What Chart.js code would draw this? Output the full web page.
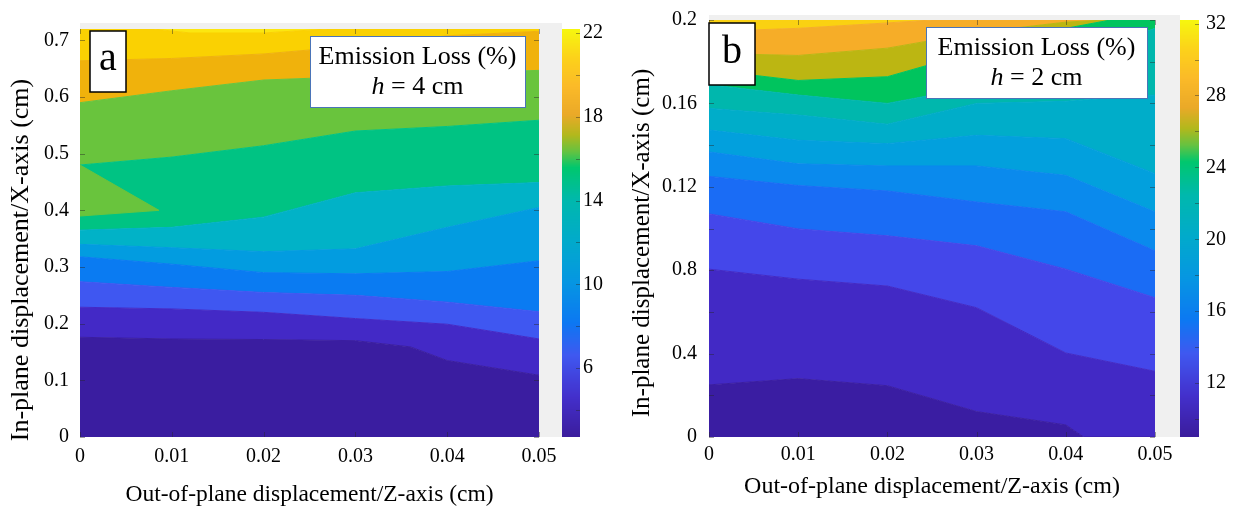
<!DOCTYPE html>
<html>
<head>
<meta charset="utf-8">
<script src="https://cdn.jsdelivr.net/npm/chart.js@4.4.1/dist/chart.umd.min.js"></script>
<style>
  html, body { margin: 0; padding: 0; background: #fff; }
  #wrap { position: relative; width: 1242px; height: 511px; overflow: hidden; }
  #chartA { position: absolute; left: 0; top: 0; }
  #chartB { position: absolute; left: 620px; top: 0; }
</style>
</head>
<body>
<div id="wrap">
  <canvas id="chartA" width="620" height="511"></canvas>
  <canvas id="chartB" width="622" height="511"></canvas>
</div>
<script>
// ---------- panel a (h = 4 cm) ----------
const xTicks = [0, 0.01, 0.02, 0.03, 0.04, 0.05];
const yTicksA = [0, 0.1, 0.2, 0.3, 0.4, 0.5, 0.6, 0.7];
const cbarTicksA = [6, 10, 14, 18, 22];
const cbarRangeA = [2.7, 22.2];

// contour boundaries, bottom to top, as [z, x] pairs (cm)
const a1 = [[0, 0.176], [0.01, 0.173], [0.02, 0.172], [0.03, 0.170], [0.036, 0.159], [0.04, 0.135], [0.05, 0.109]];
const a2 = [[0, 0.229], [0.01, 0.226], [0.02, 0.220], [0.03, 0.209], [0.04, 0.199], [0.05, 0.173]];
const a3 = [[0, 0.274], [0.01, 0.264], [0.02, 0.255], [0.03, 0.250], [0.04, 0.238], [0.05, 0.221]];
const a4 = [[0, 0.318], [0.01, 0.305], [0.02, 0.290], [0.03, 0.288], [0.04, 0.292], [0.05, 0.311]];
const a5 = [[0, 0.340], [0.01, 0.334], [0.02, 0.327], [0.03, 0.332], [0.04, 0.370], [0.05, 0.405]];
const a6 = [[0, 0.365], [0.01, 0.370], [0.02, 0.388], [0.03, 0.431], [0.04, 0.443], [0.05, 0.449]];
const a7 = [[0, 0.480], [0.01, 0.494], [0.02, 0.514], [0.03, 0.540], [0.04, 0.548], [0.05, 0.559]];
const a8 = [[0, 0.590], [0.01, 0.611], [0.02, 0.630], [0.03, 0.636], [0.04, 0.642], [0.05, 0.647]];
const a9 = [[0, 0.664], [0.01, 0.668], [0.02, 0.676], [0.03, 0.690], [0.04, 0.708], [0.05, 0.716]];
const a10 = [[0, 0.72], [0.008, 0.72], [0.012, 0.713], [0.02, 0.713], [0.027, 0.72], [0.05, 0.72]];
// small green island on the left edge
const aIslandTop = [[0, 0.480], [0.0086, 0.400]];
const aIslandBottom = [[0, 0.390], [0.0086, 0.400]];

const bandColorsA = ['#3a1da0', '#4329c6', '#3f57f1', '#0a7bf2', '#029ce0', '#01b2c7',
                     '#00c383', '#69c43d', '#f0b20c', '#fad102', '#fce610'];

// ---------- panel b (h = 2 cm) ----------
const yTicksB = [0, 0.04, 0.08, 0.12, 0.16, 0.2];
const yTickLabelsB = ['0', '0.4', '0.8', '0.12', '0.16', '0.2'];
const cbarTicksB = [12, 16, 20, 24, 28, 32];
const cbarRangeB = [9.0, 32.2];

const b1 = [[0, 0.025], [0.01, 0.028], [0.02, 0.0246], [0.03, 0.0122], [0.04, 0.0058], [0.042, 0], [0.05, 0]];
const b2 = [[0, 0.0805], [0.01, 0.0757], [0.02, 0.0724], [0.03, 0.062], [0.04, 0.0403], [0.05, 0.0315]];
const b3 = [[0, 0.107], [0.01, 0.0998], [0.02, 0.0965], [0.03, 0.0917], [0.04, 0.0805], [0.05, 0.0668]];
const b4 = [[0, 0.125], [0.01, 0.1206], [0.02, 0.118], [0.03, 0.1127], [0.04, 0.108], [0.05, 0.0893]];
const b5 = [[0, 0.1367], [0.01, 0.131], [0.02, 0.130], [0.03, 0.130], [0.04, 0.1255], [0.05, 0.108]];
const b6 = [[0, 0.1472], [0.01, 0.1423], [0.02, 0.1407], [0.03, 0.1447], [0.04, 0.1431], [0.05, 0.1263]];
const b7 = [[0, 0.1576], [0.01, 0.1544], [0.02, 0.150], [0.03, 0.160], [0.04, 0.161], [0.05, 0.164]];
const b8 = [[0, 0.169], [0.01, 0.164], [0.02, 0.160], [0.03, 0.168], [0.04, 0.180], [0.05, 0.196]];
const b9 = [[0, 0.176], [0.01, 0.171], [0.02, 0.1728], [0.03, 0.185], [0.04, 0.196], [0.045, 0.2], [0.05, 0.2]];
const b10 = [[0, 0.184], [0.01, 0.183], [0.02, 0.1865], [0.03, 0.194], [0.04, 0.199], [0.0445, 0.2], [0.05, 0.2]];
const b11 = [[0, 0.1945], [0.01, 0.196], [0.02, 0.1986], [0.025, 0.2], [0.05, 0.2]];

const bandColorsB = ['#3a1da2', '#4229c5', '#4447ea', '#1a6cf5', '#0a8aed', '#02a0dd',
                     '#00adc9', '#00b7ad', '#00c45e', '#bcb612', '#f6ad28', '#fad112'];

// colorbar map (parula-like, as printed)
const cmapStops = [
  [0.00, '#3b1c9c'], [0.10, '#4330cc'], [0.20, '#3f58f0'], [0.28, '#0c78f2'],
  [0.38, '#0696e2'], [0.48, '#01aacb'], [0.58, '#00b8ad'], [0.66, '#00c76e'],
  [0.70, '#66c240'], [0.74, '#b2b81c'], [0.79, '#eaa928'], [0.86, '#fbba28'],
  [0.93, '#fcd21a'], [1.00, '#f6f70e']
];

const serif = "'Liberation Serif', 'Times New Roman', serif";

function hexRgb(h) {
  return [parseInt(h.slice(1, 3), 16), parseInt(h.slice(3, 5), 16), parseInt(h.slice(5, 7), 16)];
}

function cmap(t) {
  t = Math.max(0, Math.min(1, t));
  for (let i = 1; i < cmapStops.length; i++) {
    if (t <= cmapStops[i][0]) {
      const [t0, c0] = cmapStops[i - 1];
      const [t1, c1] = cmapStops[i];
      const f = (t - t0) / (t1 - t0);
      const a = hexRgb(c0), b = hexRgb(c1);
      return 'rgb(' + a.map((v, k) => Math.round(v + (b[k] - v) * f)).join(',') + ')';
    }
  }
  return cmapStops[cmapStops.length - 1][1];
}

function toPts(arr) {
  return arr.map(p => ({ x: p[0], y: p[1] }));
}

function contourDatasets(levels, colors) {
  const ds = levels.map((lv, i) => ({
    data: toPts(lv),
    fill: i === 0 ? 'start' : '-1',
    backgroundColor: colors[i],
    borderColor: colors[i],
    borderWidth: 1,
    pointRadius: 0,
    tension: 0
  }));
  // region above the last contour
  ds.push({
    data: toPts(levels[levels.length - 1]),
    fill: 'end',
    backgroundColor: colors[levels.length],
    borderColor: colors[levels.length],
    borderWidth: 0,
    pointRadius: 0,
    tension: 0
  });
  return ds;
}

// gray figure background, colorbar, inner tick marks, y title and text boxes
const panelDeco = {
  id: 'panelDeco',
  beforeDraw(chart, args, o) {
    const { ctx, chartArea: ca } = chart;
    ctx.save();
    ctx.fillStyle = '#f0f0f0';
    ctx.fillRect(ca.left, ca.top - o.grayTop, ca.right - ca.left + o.barGap, ca.bottom - ca.top + o.grayTop);
    ctx.restore();
  },
  afterDraw(chart, args, o) {
    const { ctx, chartArea: ca, scales } = chart;
    const y2 = scales.y2;
    const bx = ca.right + o.barGap;
    ctx.save();
    // colorbar gradient
    for (let py = Math.floor(ca.top); py < ca.bottom; py++) {
      const v = y2.getValueForPixel(py + 0.5);
      ctx.fillStyle = cmap((v - o.range[0]) / (o.range[1] - o.range[0]));
      ctx.fillRect(bx, py, o.barWidth, 1);
    }
    ctx.strokeStyle = 'rgba(40,40,40,0.45)';
    ctx.lineWidth = 1;
    ctx.beginPath();
    for (let v = Math.ceil(o.range[0] / 2) * 2; v <= o.range[1]; v += 2) {
      const py = Math.round(y2.getPixelForValue(v)) + 0.5;
      ctx.moveTo(bx + o.barWidth, py);
      ctx.lineTo(bx + o.barWidth - 4, py);
    }
    // inner ticks of the axes box
    o.xMarks.forEach(v => {
      const px = Math.round(scales.x.getPixelForValue(v)) + 0.5;
      ctx.moveTo(px, ca.bottom); ctx.lineTo(px, ca.bottom - 5);
      ctx.moveTo(px, ca.top); ctx.lineTo(px, ca.top + 5);
    });
    o.yMarks.forEach(v => {
      const py = Math.round(scales.y.getPixelForValue(v)) + 0.5;
      ctx.moveTo(ca.left, py); ctx.lineTo(ca.left + 5, py);
      ctx.moveTo(ca.right, py); ctx.lineTo(ca.right - 5, py);
    });
    ctx.stroke();

    // y axis title (MATLAB places it a little below the axis centre)
    ctx.fillStyle = '#000';
    ctx.font = o.yTitleSize + 'px ' + serif;
    ctx.textAlign = 'center';
    ctx.textBaseline = 'middle';
    ctx.translate(o.yTitlePos[0], o.yTitlePos[1]);
    ctx.rotate(-Math.PI / 2);
    ctx.fillText('In-plane displacement/X-axis (cm)', 0, 0);
    ctx.setTransform(1, 0, 0, 1, 0, 0);

    // panel letter box
    const L = o.letterBox;
    ctx.fillStyle = '#fff';
    ctx.fillRect(L[0], L[1], L[2], L[3]);
    ctx.strokeStyle = '#000';
    ctx.lineWidth = 1.5;
    ctx.strokeRect(L[0], L[1], L[2], L[3]);
    ctx.fillStyle = '#000';
    ctx.font = '40px ' + serif;
    ctx.fillText(o.letter, L[0] + L[2] / 2, L[1] + L[3] / 2 - 2);

    // info box
    const B = o.infoBox;
    ctx.fillStyle = '#fff';
    ctx.fillRect(B[0], B[1], B[2], B[3]);
    ctx.strokeStyle = '#4a74b8';
    ctx.lineWidth = 1;
    ctx.strokeRect(B[0] + 0.5, B[1] + 0.5, B[2], B[3]);
    ctx.fillStyle = '#000';
    const cx = B[0] + B[2] / 2;
    ctx.font = '26px ' + serif;
    ctx.fillText('Emission Loss (%)', cx, B[1] + B[3] * 0.3);
    const rest = ' = ' + o.h + ' cm';
    ctx.font = 'italic 26px ' + serif;
    const wh = ctx.measureText('h').width;
    ctx.font = '26px ' + serif;
    const wr = ctx.measureText(rest).width;
    const x0 = cx - (wh + wr) / 2;
    const yy = B[1] + B[3] * 0.72;
    ctx.textAlign = 'left';
    ctx.font = 'italic 26px ' + serif;
    ctx.fillText('h', x0, yy);
    ctx.font = '26px ' + serif;
    ctx.fillText(rest, x0 + wh, yy);
    ctx.restore();
  }
};

function fmt(v) {
  return String(+(+v).toFixed(3));
}

function noPad(s) {
  s.paddingTop = 0;
  s.paddingBottom = 0;
}

function makeChart(id, cfg) {
  return new Chart(document.getElementById(id), {
    type: 'line',
    data: { datasets: cfg.datasets },
    options: {
      responsive: false,
      animation: false,
      devicePixelRatio: 1,
      layout: { padding: { top: cfg.top, left: 0, right: 0, bottom: 0 } },
      plugins: {
        legend: { display: false },
        tooltip: { enabled: false },
        panelDeco: cfg.deco
      },
      scales: {
        x: {
          type: 'linear', position: 'bottom', min: 0, max: 0.05,
          afterBuildTicks: s => { s.ticks = xTicks.map(v => ({ value: v })); },
          afterFit: s => { s.height = 74; },
          grid: { display: false, drawTicks: false },
          border: { display: false },
          ticks: { color: '#000', padding: cfg.xTickPad, font: { family: serif, size: 20 }, callback: v => fmt(v) },
          title: {
            display: true, text: 'Out-of-plane displacement/Z-axis (cm)', color: '#000',
            font: { family: serif, size: cfg.xTitleSize }, padding: { top: 0, bottom: cfg.xTitlePad }
          }
        },
        y: {
          type: 'linear', position: 'left', min: 0, max: cfg.yMax,
          afterBuildTicks: s => { s.ticks = cfg.yTicks.map(v => ({ value: v })); },
          afterFit: s => { s.width = cfg.yWidth; noPad(s); },
          grid: { display: false, drawTicks: false },
          border: { display: false },
          ticks: { color: '#000', padding: cfg.yTickPad, font: { family: serif, size: 20 }, callback: cfg.yLabel }
        },
        y2: {
          type: 'linear', position: 'right', min: cfg.cRange[0], max: cfg.cRange[1],
          afterBuildTicks: s => { s.ticks = cfg.cTicks.map(v => ({ value: v })); },
          afterFit: s => { s.width = cfg.rWidth; noPad(s); },
          grid: { display: false, drawTicks: false },
          border: { display: false },
          ticks: { color: '#000', padding: cfg.cTickPad, font: { family: serif, size: 20 } }
        }
      }
    },
    plugins: [panelDeco]
  });
}

// panel a
const dsA = contourDatasets([a1, a2, a3, a4, a5, a6, a7, a8, a9, a10], bandColorsA);
dsA.push({ data: toPts(aIslandTop), fill: false, borderWidth: 1, borderColor: bandColorsA[7], pointRadius: 0, order: -1 });
dsA.push({ data: toPts(aIslandBottom), fill: dsA.length - 1, backgroundColor: bandColorsA[7], borderWidth: 1, borderColor: bandColorsA[7], pointRadius: 0, order: -1 });

makeChart('chartA', {
  datasets: dsA,
  top: 29, yMax: 0.72, yTicks: yTicksA, yWidth: 80, rWidth: 81,
  xTickPad: 8, xTitlePad: 2, xTitleSize: 23.5, yTickPad: 11, cTickPad: 44,
  cRange: cbarRangeA, cTicks: cbarTicksA,
  yLabel: v => fmt(v),
  deco: {
    grayTop: 6, barGap: 23, barWidth: 18, range: cbarRangeA,
    xMarks: xTicks, yMarks: yTicksA,
    yTitleSize: 26, yTitlePos: [21, 260],
    letter: 'a', letterBox: [90, 31, 36, 61],
    infoBox: [310, 36, 215, 71], h: '4'
  }
});

// panel b
const dsB = contourDatasets([b1, b2, b3, b4, b5, b6, b7, b8, b9, b10, b11], bandColorsB);

makeChart('chartB', {
  datasets: dsB,
  top: 20, yMax: 0.2, yTicks: yTicksB, yWidth: 89, rWidth: 87,
  xTickPad: 6, xTitlePad: 10, xTitleSize: 24, yTickPad: 12, cTickPad: 51,
  cRange: cbarRangeB, cTicks: cbarTicksB,
  yLabel: (v, i) => yTickLabelsB[i],
  deco: {
    grayTop: 5, barGap: 25, barWidth: 19, range: cbarRangeB,
    xMarks: xTicks, yMarks: [0, 0.02, 0.04, 0.06, 0.08, 0.1, 0.12, 0.14, 0.16, 0.18, 0.2],
    yTitleSize: 25, yTitlePos: [22, 243],
    letter: 'b', letterBox: [89, 23, 46, 62],
    infoBox: [306, 27, 221, 71], h: '2'
  }
});
</script>
</body>
</html>
